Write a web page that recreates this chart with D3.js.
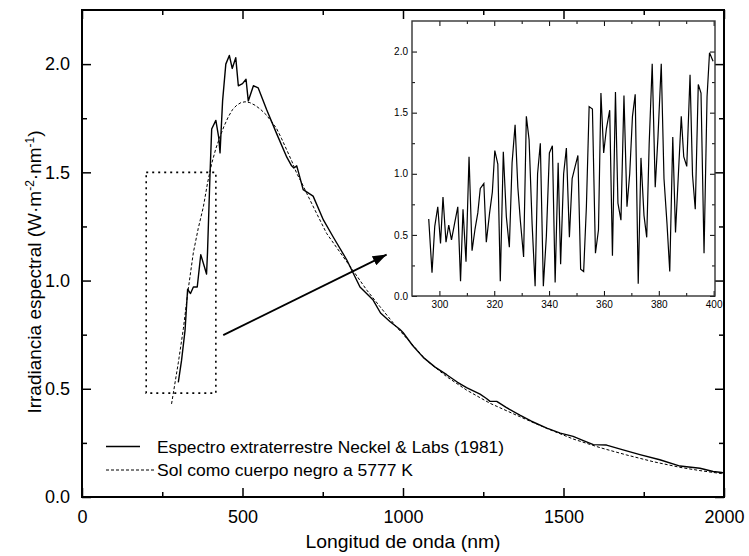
<!DOCTYPE html>
<html><head><meta charset="utf-8">
<script src="https://cdn.jsdelivr.net/npm/d3@7"></script>
<style>body{margin:0;background:#fff;} svg{display:block;font-family:"Liberation Sans",Arial,sans-serif;}</style>
</head><body><svg id="c" width="749" height="556"></svg>
<script>
// ---- data ----
const neckelWl  = [300,310,321,329,338,347,359,370,388,391,399,404,417,426,430,438,448,459,468,479,487,500,511,518,534,549,575,606,638,653,660,669,689,720,752,783,825,866,907,930,960,990,1000,1030,1063,1100,1136,1170,1198,1240,1260,1271,1292,1320,1364,1400,1448,1490,1530,1560,1593,1634,1680,1738,1800,1863,1925,1966,1993,2000];
const neckelVal = [0.53,0.63,0.77,0.96,0.94,0.97,0.97,1.12,1.03,1.13,1.50,1.70,1.74,1.66,1.59,1.83,2.00,2.04,1.98,2.03,1.90,1.91,1.93,1.83,1.90,1.89,1.79,1.68,1.57,1.53,1.52,1.53,1.42,1.39,1.28,1.20,1.095,0.97,0.91,0.85,0.81,0.775,0.76,0.70,0.645,0.60,0.565,0.53,0.505,0.475,0.455,0.442,0.442,0.415,0.378,0.35,0.318,0.295,0.28,0.262,0.242,0.24,0.22,0.196,0.172,0.143,0.133,0.118,0.113,0.11];
const bbWl  = [279,300,316,330,347,362,378,391,404,417,430,443,456,469,482,495,508,523,539,557,575,590,606,622,638,654,669,685,700,731,762,804,845,887,928,980,1074,1136,1198,1271,1364,1448,1530,1614,1697,1780,1863,1925,1993,2000];
const bbVal = [0.43,0.62,0.78,0.95,1.13,1.24,1.34,1.45,1.54,1.61,1.665,1.715,1.757,1.79,1.81,1.822,1.826,1.822,1.81,1.79,1.764,1.735,1.703,1.655,1.603,1.55,1.495,1.45,1.403,1.31,1.218,1.13,1.045,0.956,0.88,0.785,0.63,0.556,0.494,0.433,0.371,0.317,0.268,0.228,0.194,0.163,0.137,0.122,0.108,0.106];
const insetWl  = [296.1,297.3,298.3,299.4,300.4,301.3,302.4,303.4,304.4,305.5,306.7,307.7,308.6,309.7,310.8,311.9,313.0,314.0,314.9,316.2,317.1,318.3,319.3,320.2,321.3,322.2,323.3,324.4,325.5,326.5,327.6,328.6,329.5,330.7,331.7,332.7,333.8,334.9,335.8,336.8,337.9,339.0,340.1,341.2,342.2,343.3,344.2,345.3,346.3,347.4,348.4,349.5,350.5,351.5,352.6,353.6,354.6,355.8,356.9,358.0,358.9,359.9,360.9,362.1,363.1,364.2,365.1,366.2,367.3,368.4,369.4,370.4,371.4,372.5,373.5,374.6,375.6,376.5,377.6,378.7,379.7,380.9,381.9,383.0,384.0,385.1,386.1,387.2,388.2,389.1,390.2,391.4,392.3,393.3,394.4,395.4,396.5,397.6,398.5,399.8];
const insetVal = [0.63,0.19,0.57,0.73,0.43,0.81,0.44,0.58,0.46,0.59,0.73,0.12,0.71,0.28,1.14,0.37,0.55,0.68,0.88,0.92,0.44,0.68,0.85,1.19,1.08,0.12,1.18,0.65,0.40,1.09,1.40,0.89,0.62,0.32,1.47,1.28,0.59,0.08,1.00,1.25,0.08,0.49,1.17,1.23,0.11,1.09,0.26,1.00,1.21,0.48,0.96,1.06,1.15,0.22,0.20,0.73,1.55,1.53,0.35,0.54,1.66,1.17,1.37,1.52,0.33,1.67,0.76,0.62,1.64,0.73,1.00,1.47,1.65,0.10,1.13,0.66,0.48,1.25,1.90,0.89,1.30,1.90,0.96,0.59,0.20,1.30,0.52,1.02,1.47,1.14,1.06,1.81,0.99,0.71,1.73,1.66,0.35,1.63,1.99,1.92];
const xTicks = [0,500,1000,1500,2000];
const xMinor = [250,750,1250,1750];
const yTicks = [0,0.5,1.0,1.5,2.0];
const yMinor = [0.25,0.75,1.25,1.75];
const insetXTicks = [300,320,340,360,380,400];
const insetXMinor = [310,330,350,370,390];
const insetYTicks = [0,0.5,1.0,1.5,2.0];
const insetYMinor = [0.25,0.75,1.25,1.75];
const zoomWl = [200,417];
const zoomIrr = [0.48,1.5];
const arrowWl = [440,949];
const arrowIrr = [0.748,1.12];
const legendLabels = ["Espectro extraterrestre Neckel & Labs (1981)","Sol como cuerpo negro a 5777 K"];
const xTitle = "Longitud de onda (nm)";

// ---- drawing ----
const svg = d3.select("#c");
const x = d3.scaleLinear().domain([0,2000]).range([82,724]);
const y = d3.scaleLinear().domain([0,2.25]).range([497,10]);

function styleAxis(g, fs, sw){
  g.select(".domain").remove();
  g.selectAll("line").attr("stroke","#000").attr("stroke-width",sw);
  g.selectAll("text").attr("font-size",fs).attr("font-family","'Liberation Sans',Arial,sans-serif").attr("fill","#000");
  g.attr("font-size",null).attr("font-family",null);
}
function axes(root, xs, ys, cfg){
  const [x0,x1]=xs.range(), [y0,y1]=ys.range();
  const add=(tr,ax)=>styleAxis(root.append("g").attr("transform",tr).call(ax),cfg.fs,cfg.sw);
  add(`translate(0,${y0})`, d3.axisBottom(xs).tickValues(cfg.xt).tickSize(-cfg.maj).tickPadding(cfg.xpad).tickFormat(cfg.xf));
  add(`translate(0,${y0})`, d3.axisBottom(xs).tickValues(cfg.xm).tickSize(-cfg.min).tickFormat(""));
  add(`translate(0,${y1})`, d3.axisTop(xs).tickValues(cfg.xt).tickSize(-cfg.maj).tickFormat(""));
  add(`translate(0,${y1})`, d3.axisTop(xs).tickValues(cfg.xm).tickSize(-cfg.min).tickFormat(""));
  add(`translate(${x0},0)`, d3.axisLeft(ys).tickValues(cfg.yt).tickSize(-cfg.maj).tickPadding(cfg.ypad).tickFormat(d3.format(".1f")));
  add(`translate(${x0},0)`, d3.axisLeft(ys).tickValues(cfg.ym).tickSize(-cfg.min).tickFormat(""));
  add(`translate(${x1},0)`, d3.axisRight(ys).tickValues(cfg.yt).tickSize(-cfg.maj).tickFormat(""));
  add(`translate(${x1},0)`, d3.axisRight(ys).tickValues(cfg.ym).tickSize(-cfg.min).tickFormat(""));
}

// main curves
const line = d3.line().x(d=>x(d[0])).y(d=>y(d[1]));
svg.append("path").datum(bbWl.map((w,i)=>[w,bbVal[i]])).attr("d",line)
  .attr("fill","none").attr("stroke","#000").attr("stroke-width",1).attr("stroke-dasharray","3,2");
svg.append("path").datum(neckelWl.map((w,i)=>[w,neckelVal[i]])).attr("d",line)
  .attr("fill","none").attr("stroke","#000").attr("stroke-width",1.4).attr("stroke-linejoin","round");

// zoom box
svg.append("rect").attr("x",x(zoomWl[0])).attr("y",y(zoomIrr[1]))
  .attr("width",x(zoomWl[1])-x(zoomWl[0])).attr("height",y(zoomIrr[0])-y(zoomIrr[1]))
  .attr("fill","none").attr("stroke","#000").attr("stroke-width",1.6).attr("stroke-dasharray","2,4");

// arrow
const defs=svg.append("defs");
defs.append("marker").attr("id","ah").attr("viewBox","0 0 14 10").attr("refX",14).attr("refY",5)
  .attr("markerWidth",14).attr("markerHeight",10).attr("markerUnits","userSpaceOnUse").attr("orient","auto")
  .append("path").attr("d","M0,0 L14,5 L0,10 Z").attr("fill","#000");
svg.append("line").attr("x1",x(arrowWl[0])).attr("y1",y(arrowIrr[0])).attr("x2",x(arrowWl[1])).attr("y2",y(arrowIrr[1]))
  .attr("stroke","#000").attr("stroke-width",1.8).attr("marker-end","url(#ah)");

// main axes
axes(svg,x,y,{xt:xTicks,xm:xMinor,yt:yTicks,ym:yMinor,maj:9,min:5,xpad:13,ypad:12,fs:18,sw:1.5,xf:d3.format("d")});
svg.append("rect").attr("x",82).attr("y",10).attr("width",642).attr("height",487)
  .attr("fill","none").attr("stroke","#000").attr("stroke-width",2);

// titles
svg.append("text").attr("x",(82+724)/2).attr("y",548).attr("text-anchor","middle")
  .attr("font-size",19).attr("textLength",195).attr("lengthAdjust","spacingAndGlyphs").text(xTitle);
const yt = svg.append("text").attr("transform","translate(41,272) rotate(-90)").attr("text-anchor","middle").attr("font-size",19);
yt.append("tspan").text("Irradiancia espectral (W·m");
yt.append("tspan").attr("font-size",12).attr("dy",-7).text("-2");
yt.append("tspan").attr("dy",7).text("·nm");
yt.append("tspan").attr("font-size",12).attr("dy",-7).text("-1");
yt.append("tspan").attr("dy",7).text(")");

// legend
svg.append("line").attr("x1",106).attr("x2",140).attr("y1",446.5).attr("y2",446.5).attr("stroke","#000").attr("stroke-width",1.3);
svg.append("text").attr("x",157).attr("y",452.5).attr("font-size",17).attr("textLength",347).attr("lengthAdjust","spacingAndGlyphs").text(legendLabels[0]);
svg.append("line").attr("x1",106).attr("x2",154).attr("y1",470).attr("y2",470).attr("stroke","#000").attr("stroke-width",1).attr("stroke-dasharray","3,2");
svg.append("text").attr("x",157).attr("y",476).attr("font-size",17).attr("textLength",256).attr("lengthAdjust","spacingAndGlyphs").text(legendLabels[1]);

// inset
const xi = d3.scaleLinear().domain([290,400.5]).range([412,715]);
const yi = d3.scaleLinear().domain([0,2.25]).range([296,21]);
const ig = svg.append("g");
ig.append("rect").attr("x",412).attr("y",21).attr("width",303).attr("height",275).attr("fill","#fff");
const linei = d3.line().x(d=>xi(d[0])).y(d=>yi(d[1]));
ig.append("path").datum(insetWl.map((w,i)=>[w,insetVal[i]])).attr("d",linei)
  .attr("fill","none").attr("stroke","#000").attr("stroke-width",1.2).attr("stroke-linejoin","miter");
axes(ig,xi,yi,{xt:insetXTicks,xm:insetXMinor,yt:insetYTicks,ym:insetYMinor,maj:5,min:3,xpad:5,ypad:4,fs:10,sw:1,xf:d3.format("d")});
ig.append("rect").attr("x",412).attr("y",21).attr("width",303).attr("height",275)
  .attr("fill","none").attr("stroke","#333").attr("stroke-width",1.4);
</script></body></html>
